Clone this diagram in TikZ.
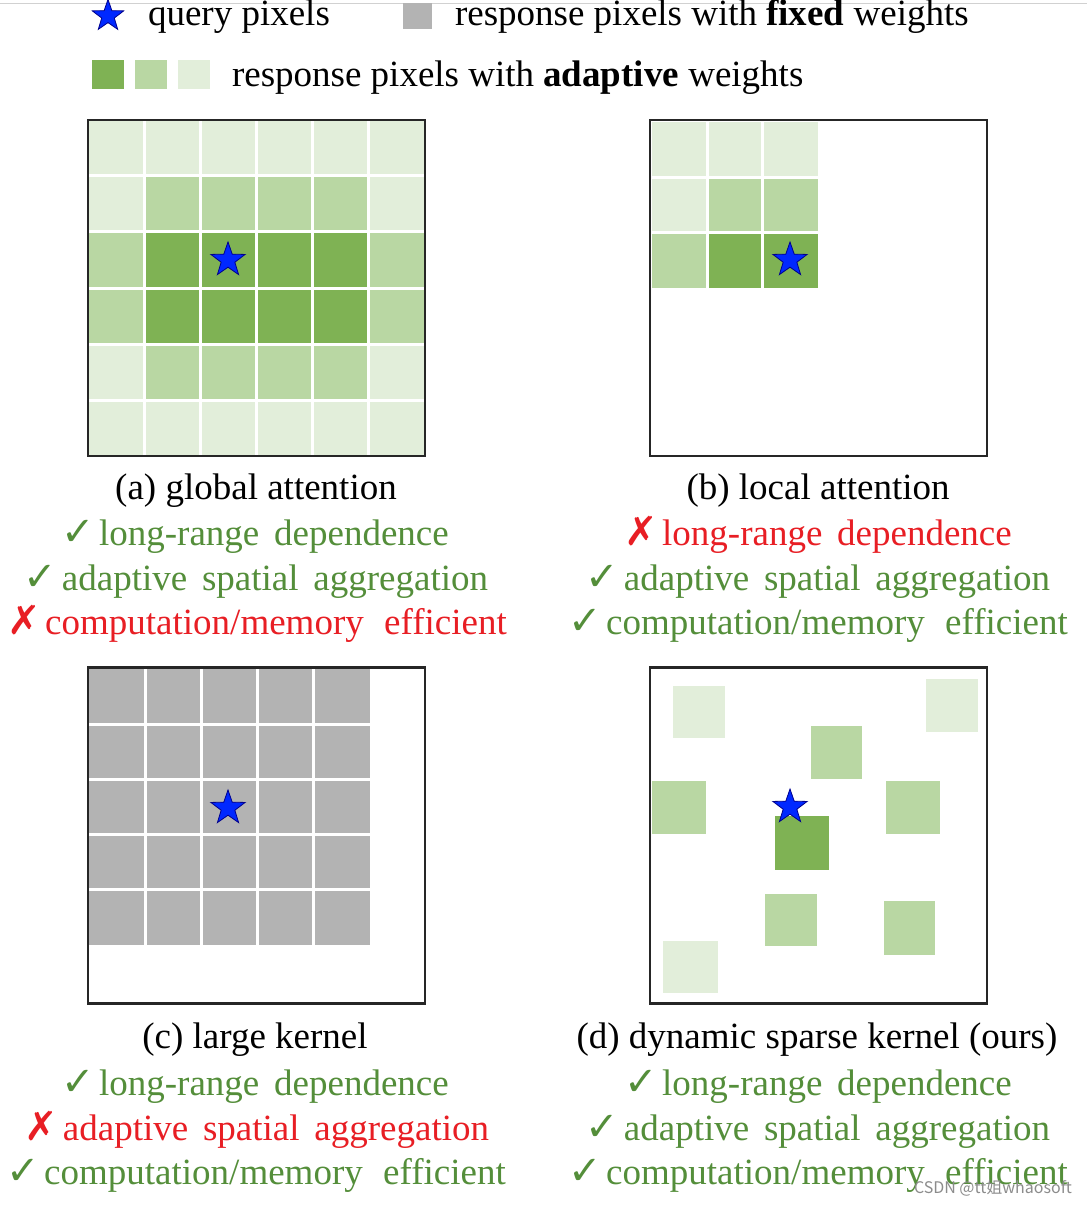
\documentclass[tikz,border=0pt]{standalone}
\usepackage{fontspec}
\setmainfont{Liberation Serif}
\newfontfamily\symfont{DejaVu Sans}
\newfontfamily\cjkfont{Noto Sans CJK SC}
\usetikzlibrary{shapes.geometric}
\definecolor{gD}{RGB}{127,178,84}
\definecolor{gM}{RGB}{185,215,163}
\definecolor{gL}{RGB}{226,238,218}
\definecolor{grayfix}{RGB}{179,179,179}
\definecolor{txtgreen}{RGB}{84,142,58}
\definecolor{txtred}{RGB}{232,30,36}
\definecolor{starblue}{RGB}{0,40,255}
\newcommand\yes{{\symfont\fontsize{40}{40}\selectfont ✓}\hspace{0.12em}}
\newcommand\no{{\symfont\fontsize{40}{40}\selectfont ✗}\hspace{0.12em}}
\newcommand\wsp{\ \hspace{0.15em}}
\newcommand\wwsp{\ \hspace{0.3em}}
\begin{document}
\begin{tikzpicture}[x=1pt,y=-1pt,
  every node/.style={inner sep=0pt, outer sep=0pt},
  lbl/.style={font=\fontsize{37}{40}\selectfont, anchor=mid},
  okline/.style={lbl, text=txtgreen},
  badline/.style={lbl, text=txtred},
  querystar/.style={star, star points=5, star point ratio=2.5, fill=starblue, draw=blue!55!black, line width=0.8pt, minimum size=36pt},
  panel/.style={draw=black!85, line width=2.5pt, fill=none, minimum width=337pt, minimum height=336pt},
  gridline/.style={white, line width=3pt},
]
\useasboundingbox (0,0) rectangle (1087,1206);
\fill[white] (0,0) rectangle (1087,1206);
\draw[black!18, line width=1pt] (0,3.5) -- (1087,3.5);

% ---------- legend ----------
\node[querystar, minimum size=33pt] (legstar) at (108,16) {};
\node[lbl, anchor=base west] (legq) at (148,26) {query pixels};
\fill[grayfix] (403,3) rectangle (432,29);
\node[lbl, anchor=base west] (legfix) at (455,26) {response pixels with \textbf{fixed} weights};
\fill[gD] (92,60) rectangle (124,89);
\fill[gM] (135,60) rectangle (167,89);
\fill[gL] (178,60) rectangle (210,89);
\node[lbl, anchor=base west] (legada) at (232,87) {response pixels with \textbf{adaptive} weights};

% ---------- (a) global attention ----------
\foreach \r/\cl in {0/{gL,gL,gL,gL,gL,gL},1/{gL,gM,gM,gM,gM,gL},2/{gM,gD,gD,gD,gD,gM},3/{gM,gD,gD,gD,gD,gM},4/{gL,gM,gM,gM,gM,gL},5/{gL,gL,gL,gL,gL,gL}}{
  \foreach \c [count=\i from 0] in \cl {
    \fill[\c] ({88+\i*56.17},{120+\r*56}) rectangle ++(56.17,56);
  }
}
\foreach \k in {1,...,5}{
  \draw[gridline] ({88+\k*56.17},120) -- ++(0,336);
  \draw[gridline] (88,{120+\k*56}) -- ++(337,0);
}
\node[panel] (pa) at (256.5,288) {};
\node[querystar] (qa) at (228,260) {};

% ---------- (b) local attention ----------
\foreach \r/\cl in {0/{gL,gL,gL},1/{gL,gM,gM},2/{gM,gD,gD}}{
  \foreach \c [count=\i from 0] in \cl {
    \fill[\c] ({652+\i*55.3},{122+\r*55.3}) rectangle ++(55.3,55.3);
  }
}
\foreach \k in {1,2}{
  \draw[gridline] ({652+\k*55.3},122) -- ++(0,165.9);
  \draw[gridline] (652,{122+\k*55.3}) -- ++(165.9,0);
}
\node[panel] (pb) at (818.5,288) {};
\node[querystar] (qb) at (790,260) {};

% ---------- (c) large kernel ----------
\fill[grayfix] (89,669) rectangle (370,945);
\foreach \k in {1,...,4}{
  \draw[gridline] ({89+\k*56.2},669) -- ++(0,276);
  \draw[gridline] (89,{669+\k*55.2}) -- ++(281,0);
}
\node[panel] (pc) at (256.5,835.5) {};
\node[querystar] (qc) at (228,808) {};

% ---------- (d) dynamic sparse kernel ----------
\fill[gL] (673,686) rectangle (725,738);
\fill[gL] (926,679) rectangle (978,732);
\fill[gM] (811,726) rectangle (862,779);
\fill[gM] (652,781) rectangle (706,834);
\fill[gM] (886,781) rectangle (940,834);
\fill[gD] (775,816) rectangle (829,870);
\fill[gM] (765,894) rectangle (817,946);
\fill[gM] (884,901) rectangle (935,955);
\fill[gL] (663,941) rectangle (718,993);
\node[panel] (pd) at (818.5,835.5) {};
\node[querystar] (qd) at (790,807) {};

% ---------- captions ----------
\node[lbl] (capa) at (256,497) {(a) global attention};
\node[lbl] (capb) at (818,497) {(b) local attention};
\node[lbl] (capc) at (255,1046) {(c) large kernel};
\node[lbl] (capd) at (817,1046) {(d) dynamic sparse kernel (ours)};

% ---------- properties ----------
\node[okline]  (a1) at (255,543) {\yes long-range\wsp dependence};
\node[okline]  (a2) at (256,588) {\yes adaptive\wsp spatial\wsp aggregation};
\node[badline] (a3) at (257,632) {\no computation/memory\wwsp efficient};

\node[badline] (b1) at (818,543) {\no long-range\wsp dependence};
\node[okline]  (b2) at (818,588) {\yes adaptive\wsp spatial\wsp aggregation};
\node[okline]  (b3) at (818,632) {\yes computation/memory\wwsp efficient};

\node[okline]  (c1) at (255,1093) {\yes long-range\wsp dependence};
\node[badline] (c2) at (257,1138) {\no adaptive\wsp spatial\wsp aggregation};
\node[okline]  (c3) at (256,1182) {\yes computation/memory\wwsp efficient};

\node[okline]  (d1) at (818,1093) {\yes long-range\wsp dependence};
\node[okline]  (d2) at (818,1138) {\yes adaptive\wsp spatial\wsp aggregation};
\node[okline]  (d3) at (818,1182) {\yes computation/memory\wwsp efficient};

% ---------- watermark ----------
\node[font=\cjkfont\fontsize{16}{16}\selectfont, text=black!45, anchor=east] (wm) at (1072,1188) {CSDN @tt姐whaosoft};
\end{tikzpicture}
\end{document}
